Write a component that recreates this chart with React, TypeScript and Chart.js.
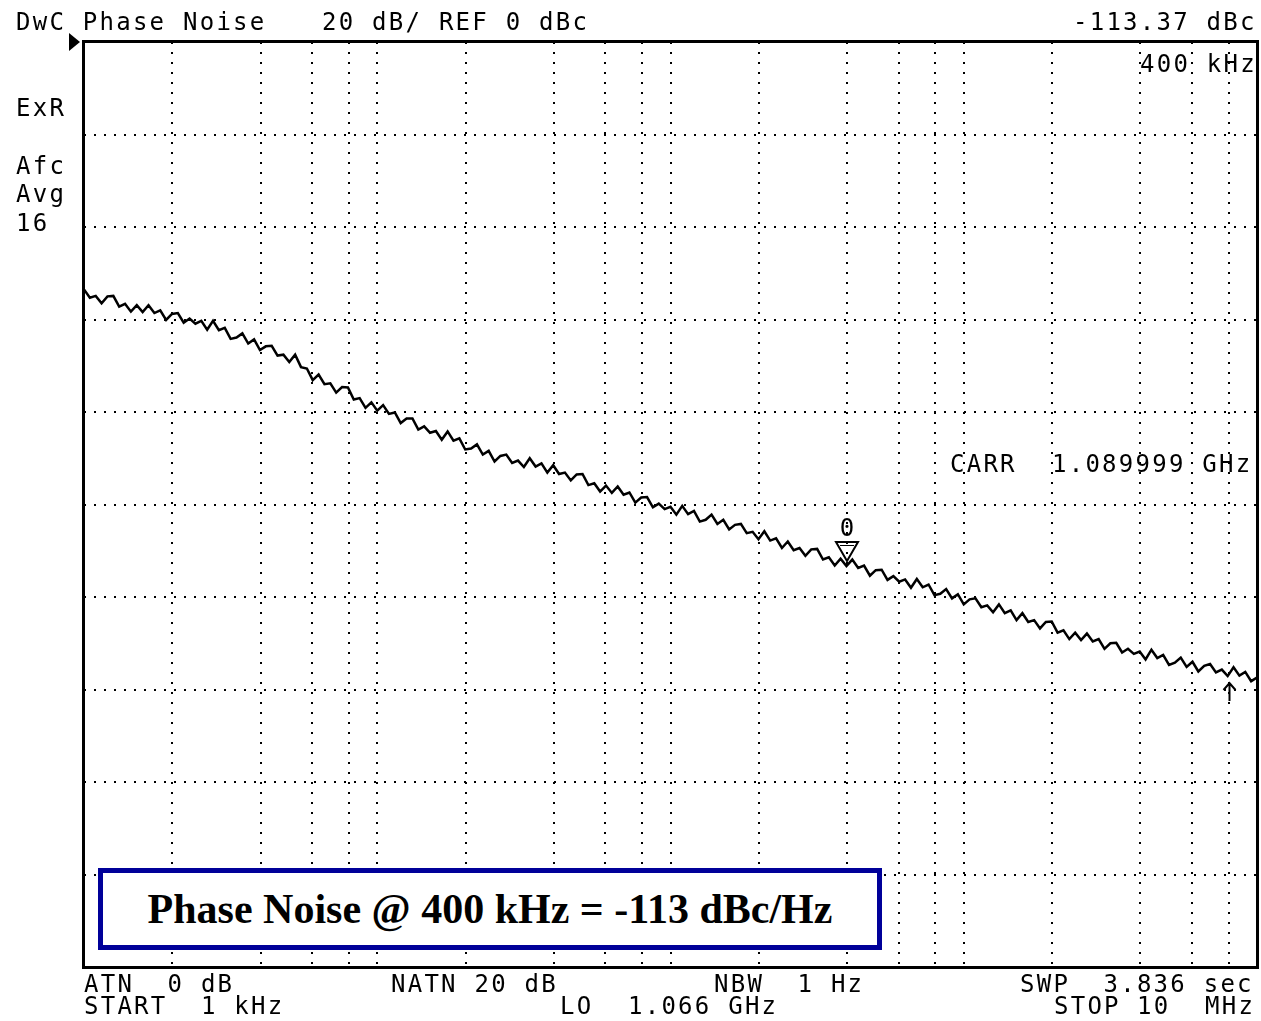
import React, { useEffect, useRef } from "react";
import { Chart, registerables } from "chart.js";

Chart.register(...registerables);

// ---- Instrument settings ----
const START_HZ = 1e3;
const STOP_HZ = 1e7;
const REF_DBC = 0;
const BOTTOM_DBC = -200;
const DB_PER_DIV = 20;

// Vertical grid lines of the analyzer (2, 4, 6, 8 per decade)
const gridFreqs = [
  1e3, 2e3, 4e3, 6e3, 8e3,
  1e4, 2e4, 4e4, 6e4, 8e4,
  1e5, 2e5, 4e5, 6e5, 8e5,
  1e6, 2e6, 4e6, 6e6, 8e6,
  1e7,
];

const traceDbc = [
  -53.5, -55.3, -54.9, -56.5, -55.0, -54.9, -57.2, -56.6, -58.3, -56.9,
  -58.4, -56.9, -58.6, -58.0, -60.1, -58.8, -58.6, -60.7, -59.8, -60.9,
  -60.3, -62.2, -60.3, -62.3, -61.8, -64.2, -63.9, -63.0, -65.2, -64.3,
  -66.6, -65.8, -65.7, -67.8, -67.6, -69.2, -67.6, -70.3, -70.6, -73.1,
  -71.9, -74.0, -73.8, -75.8, -74.6, -74.7, -77.3, -77.0, -79.1, -77.9,
  -79.7, -78.5, -80.4, -80.1, -82.4, -81.4, -81.4, -83.8, -83.1, -84.5,
  -84.1, -86.0, -84.2, -86.2, -85.7, -88.1, -87.9, -87.0, -89.2, -88.4,
  -90.7, -89.5, -89.2, -91.0, -90.5, -91.9, -90.0, -91.8, -91.1, -93.1,
  -91.5, -93.4, -93.1, -94.8, -93.5, -93.4, -95.8, -95.4, -97.2, -95.9,
  -97.5, -96.1, -97.9, -97.4, -99.6, -98.5, -98.4, -100.6, -99.8, -101.0,
  -100.5, -102.2, -100.3, -102.1, -101.4, -103.7, -103.3, -102.2, -104.2, -103.3,
  -105.4, -104.4, -104.2, -106.2, -105.9, -107.5, -105.8, -107.8, -107.3, -109.4,
  -108.0, -109.9, -109.4, -111.1, -109.7, -109.6, -111.9, -111.4, -113.2, -111.7,
  -113.3, -111.9, -113.7, -113.2, -115.4, -114.2, -114.1, -116.3, -115.5, -116.7,
  -116.2, -118.0, -116.1, -117.9, -117.3, -119.6, -119.3, -118.3, -120.3, -119.4,
  -121.6, -120.5, -120.3, -122.2, -121.8, -123.3, -121.6, -123.5, -122.9, -125.0,
  -123.5, -125.4, -125.0, -126.8, -125.4, -125.3, -127.7, -127.2, -129.1, -127.7,
  -129.3, -127.9, -129.6, -129.1, -131.2, -130.0, -129.9, -132.0, -131.2, -132.3,
  -131.8, -133.5, -131.4, -133.2, -132.5, -134.7, -134.2, -133.1, -135.1, -134.0,
  -136.1, -134.9, -134.5, -136.3, -135.7, -137.1, -135.2, -137.0, -136.2, -138.2,
  -137.4,
];

// Marker
const markerFreq = 4e5;
const markerDbc = -113.37;
const markerLabel = "0";
// Reference-point arrow
const refArrowFreq = 8e6;
const refArrowDbc = -136.0;

const sweepFreqs = traceDbc.map(
  (_, i) => START_HZ * Math.pow(STOP_HZ / START_HZ, i / (traceDbc.length - 1))
);

const MONO = '"DejaVu Sans Mono", "Liberation Mono", monospace';

const overlayPlugin = {
  id: "analyzerOverlay",
  afterDatasetsDraw(chart: any) {
    const { ctx, chartArea: a, scales } = chart;
    const x = scales.x;
    const y = scales.y;
    ctx.save();
    // frame
    ctx.strokeStyle = "#000";
    ctx.lineWidth = 3;
    ctx.strokeRect(a.left - 0.5, a.top - 0.5, a.right - a.left + 1, a.bottom - a.top + 1);
    // reference level pointer
    const ry = y.getPixelForValue(REF_DBC);
    ctx.fillStyle = "#000";
    ctx.beginPath();
    ctx.moveTo(a.left - 15, ry - 9);
    ctx.lineTo(a.left - 4, ry);
    ctx.lineTo(a.left - 15, ry + 9);
    ctx.closePath();
    ctx.fill();
    // marker triangle
    const mx = Math.round(x.getPixelForValue(markerFreq));
    const my = Math.round(y.getPixelForValue(markerDbc)) - 5;
    ctx.lineWidth = 2;
    ctx.beginPath();
    ctx.moveTo(mx - 11, my - 19);
    ctx.lineTo(mx + 11, my - 19);
    ctx.lineTo(mx, my);
    ctx.closePath();
    ctx.stroke();
    ctx.lineWidth = 1;
    ctx.beginPath();
    ctx.moveTo(mx - 7, my - 15.5);
    ctx.lineTo(mx + 7, my - 15.5);
    ctx.stroke();
    ctx.font = "24px " + MONO;
    ctx.textAlign = "center";
    ctx.textBaseline = "alphabetic";
    ctx.fillText(markerLabel, mx, my - 25);
    // reference arrow
    const ax = Math.round(x.getPixelForValue(refArrowFreq)) + 0.5;
    const ay = Math.round(y.getPixelForValue(refArrowDbc));
    ctx.lineWidth = 2;
    ctx.beginPath();
    ctx.moveTo(ax, ay + 12);
    ctx.lineTo(ax, ay + 30);
    ctx.moveTo(ax - 6, ay + 19);
    ctx.lineTo(ax, ay + 12);
    ctx.lineTo(ax + 6, ay + 19);
    ctx.stroke();
    ctx.restore();
  },
};

function Mono({ x, b, children }: { x: number; b: number; children: React.ReactNode }) {
  return (
    <div
      style={{
        position: "absolute",
        left: x,
        top: b - 20.3,
        font: "24px " + MONO,
        letterSpacing: "2.25px",
        lineHeight: "24px",
        whiteSpace: "pre",
        color: "#000",
      }}
    >
      {children}
    </div>
  );
}

export default function App() {
  const canvasRef = useRef<HTMLCanvasElement | null>(null);

  useEffect(() => {
    const canvas = canvasRef.current;
    if (!canvas) return;
    const chart = new Chart(canvas, {
      type: "line",
      data: {
        datasets: [
          {
            label: "Phase Noise",
            data: sweepFreqs.map((f, i) => ({ x: f, y: traceDbc[i] })),
            borderColor: "#000",
            borderWidth: 2.5,
            pointRadius: 0,
            tension: 0,
            fill: false,
          },
        ],
      },
      options: {
        responsive: false,
        animation: false,
        devicePixelRatio: 1,
        events: [],
        layout: { padding: { left: 84, top: 42, right: 4, bottom: 54 } },
        plugins: { legend: { display: false }, tooltip: { enabled: false }, title: { display: false } },
        scales: {
          x: {
            type: "logarithmic",
            min: START_HZ,
            max: STOP_HZ,
            afterBuildTicks: (s: any) => {
              s.ticks = gridFreqs.map((v) => ({ value: v }));
            },
            afterFit: (s: any) => {
              s.height = 0;
            },
            ticks: { display: false },
            grid: { color: "#000", lineWidth: 2, drawTicks: false, tickLength: 0 },
            border: { display: false, dash: [2, 8] },
          },
          y: {
            type: "linear",
            min: BOTTOM_DBC,
            max: REF_DBC,
            ticks: { display: false, stepSize: DB_PER_DIV },
            afterFit: (s: any) => {
              s.width = 0;
            },
            grid: { color: "#000", lineWidth: 2, drawTicks: false, tickLength: 0 },
            border: { display: false, dash: [2, 8] },
          },
        },
      } as any,
      plugins: [overlayPlugin],
    });
    return () => chart.destroy();
  }, []);

  return (
    <div
      style={{
        position: "fixed",
        left: 0,
        top: 0,
        width: 1261,
        height: 1021,
        background: "#fff",
        overflow: "hidden",
      }}
    >
      <canvas
        ref={canvasRef}
        width={1261}
        height={1021}
        style={{ position: "absolute", left: 0, top: 0, width: 1261, height: 1021 }}
      />
      {/* header */}
      <Mono x={16} b={30}>DwC Phase Noise</Mono>
      <Mono x={322} b={30}>20 dB/ REF 0 dBc</Mono>
      <Mono x={1073} b={30}>-113.37 dBc</Mono>
      <Mono x={1140} b={72}>400 kHz</Mono>
      {/* side annotations */}
      <Mono x={16} b={116}>ExR</Mono>
      <Mono x={16} b={174}>Afc</Mono>
      <Mono x={16} b={202}>Avg</Mono>
      <Mono x={16} b={231}>16</Mono>
      <Mono x={950} b={472}>CARR</Mono>
      <Mono x={1052} b={472}>1.089999 GHz</Mono>
      {/* footer */}
      <Mono x={84} b={992}>ATN  0 dB</Mono>
      <Mono x={391} b={992}>NATN 20 dB</Mono>
      <Mono x={714} b={992}>NBW  1 Hz</Mono>
      <Mono x={1020} b={992}>SWP  3.836 sec</Mono>
      <Mono x={84} b={1014}>START  1 kHz</Mono>
      <Mono x={560} b={1014}>LO</Mono>
      <Mono x={628} b={1014}>1.066 GHz</Mono>
      <Mono x={1054} b={1014}>STOP</Mono>
      <Mono x={1137} b={1014}>10</Mono>
      <Mono x={1205} b={1014}>MHz</Mono>
      {/* result box */}
      <div
        style={{
          position: "absolute",
          left: 98,
          top: 868,
          width: 784,
          height: 82,
          boxSizing: "border-box",
          border: "5px solid #000099",
          background: "#fff",
          display: "flex",
          alignItems: "center",
          justifyContent: "center",
          font: 'bold 42px "Liberation Serif", "Times New Roman", serif',
          color: "#000",
          whiteSpace: "pre",
        }}
      >
        Phase Noise @ 400 kHz = -113 dBc/Hz
      </div>
    </div>
  );
}
